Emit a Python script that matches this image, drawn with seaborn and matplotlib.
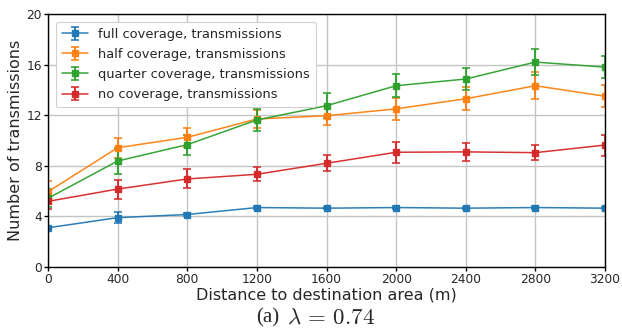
import numpy as np
import pandas as pd
import matplotlib
matplotlib.use("Agg")
import matplotlib.pyplot as plt
import seaborn as sns
from matplotlib.patches import Rectangle

distance = [0, 400, 800, 1200, 1600, 2000, 2400, 2800, 3200]
series_names = ["full coverage, transmissions", "half coverage, transmissions",
                "quarter coverage, transmissions", "no coverage, transmissions"]
full_mean = [3.1, 3.9, 4.15, 4.7, 4.65, 4.7, 4.65, 4.7, 4.65]
full_err = [0.1, 0.43, 0.1, 0.12, 0.1, 0.1, 0.08, 0.1, 0.08]
half_mean = [5.95, 9.43, 10.25, 11.7, 11.96, 12.5, 13.3, 14.33, 13.5]
half_err = [0.85, 0.8, 0.77, 0.75, 0.75, 0.85, 0.9, 1.07, 0.87]
quarter_mean = [5.43, 8.38, 9.67, 11.62, 12.75, 14.33, 14.86, 16.2, 15.8]
quarter_err = [0.7, 1.0, 0.8, 0.85, 1.0, 0.9, 0.9, 1.05, 0.88]
none_mean = [5.19, 6.16, 6.96, 7.33, 8.2, 9.07, 9.1, 9.04, 9.64]
none_err = [0.6, 0.75, 0.75, 0.55, 0.65, 0.85, 0.7, 0.57, 0.83]

means = [full_mean, half_mean, quarter_mean, none_mean]
errs = [full_err, half_err, quarter_err, none_err]

rows = []
for name, m, e in zip(series_names, means, errs):
    for d, mv, ev in zip(distance, m, e):
        rows.append({"series": name, "distance": d, "mean": mv, "err": ev})
df = pd.DataFrame(rows)

sns.set_style("whitegrid", {"axes.edgecolor": "black", "grid.color": "#c8c8c8",
                            "xtick.bottom": True, "ytick.left": True,
                            "axes.linewidth": 1.0})
plt.rcParams["font.family"] = ["DejaVu Sans"]
plt.rcParams["mathtext.fontset"] = "cm"
palette = sns.color_palette("tab10", 4)

fig = plt.figure(figsize=(6.22, 3.29), dpi=100)
ax = fig.add_axes([48 / 622, 1 - 267 / 329, (605 - 48) / 622, (267 - 14) / 329])

for name, color in zip(series_names, palette):
    sub = df[df["series"] == name]
    ax.errorbar(sub["distance"], sub["mean"], yerr=sub["err"], fmt="-s",
                color=color, markersize=4.5, linewidth=1.1, elinewidth=1.4,
                capsize=3, capthick=1.2, ecolor=color, alpha=0.95, label=name)

ax.set_xlim(0, 3200)
ax.set_ylim(0, 20)
ax.set_xticks(distance)
ax.set_yticks([0, 4, 8, 12, 16, 20])
ax.tick_params(axis="both", labelsize=8.8, length=3, width=1, color="black", pad=1.5)
ax.grid(True, color="#c4c4c4", linewidth=1.0)
for s in ax.spines.values():
    s.set_color("black")
    s.set_linewidth(1.0)
ax.set_xlabel("Distance to destination area (m)", fontsize=11.5, labelpad=1)
ax.set_ylabel("Number of transmissions", fontsize=11.5, labelpad=2)
ax.set_title("lambda = 0.74", fontsize=10, pad=4)

leg = ax.legend(loc="upper left", fontsize=9.4, frameon=True, framealpha=1.0,
                edgecolor="#d0d0d0", borderaxespad=0.6, handlelength=2.0,
                labelspacing=0.55, borderpad=0.45)
leg.get_frame().set_linewidth(0.8)

# top of the image was cropped in the original
fig.patches.append(Rectangle((0, 1 - 8.5 / 329), 1, 8.5 / 329, transform=fig.transFigure,
                             facecolor="white", edgecolor="none", zorder=10))

fig.text(256 / 622, 1 - 318 / 329, "(a)", ha="left", va="center",
         fontsize=15, family="Liberation Serif")
fig.text(287 / 622, 1 - 317 / 329, r"$\lambda\,=\,0.74$", ha="left", va="center",
         fontsize=16.5)

fig.savefig("out.png", dpi=100)
